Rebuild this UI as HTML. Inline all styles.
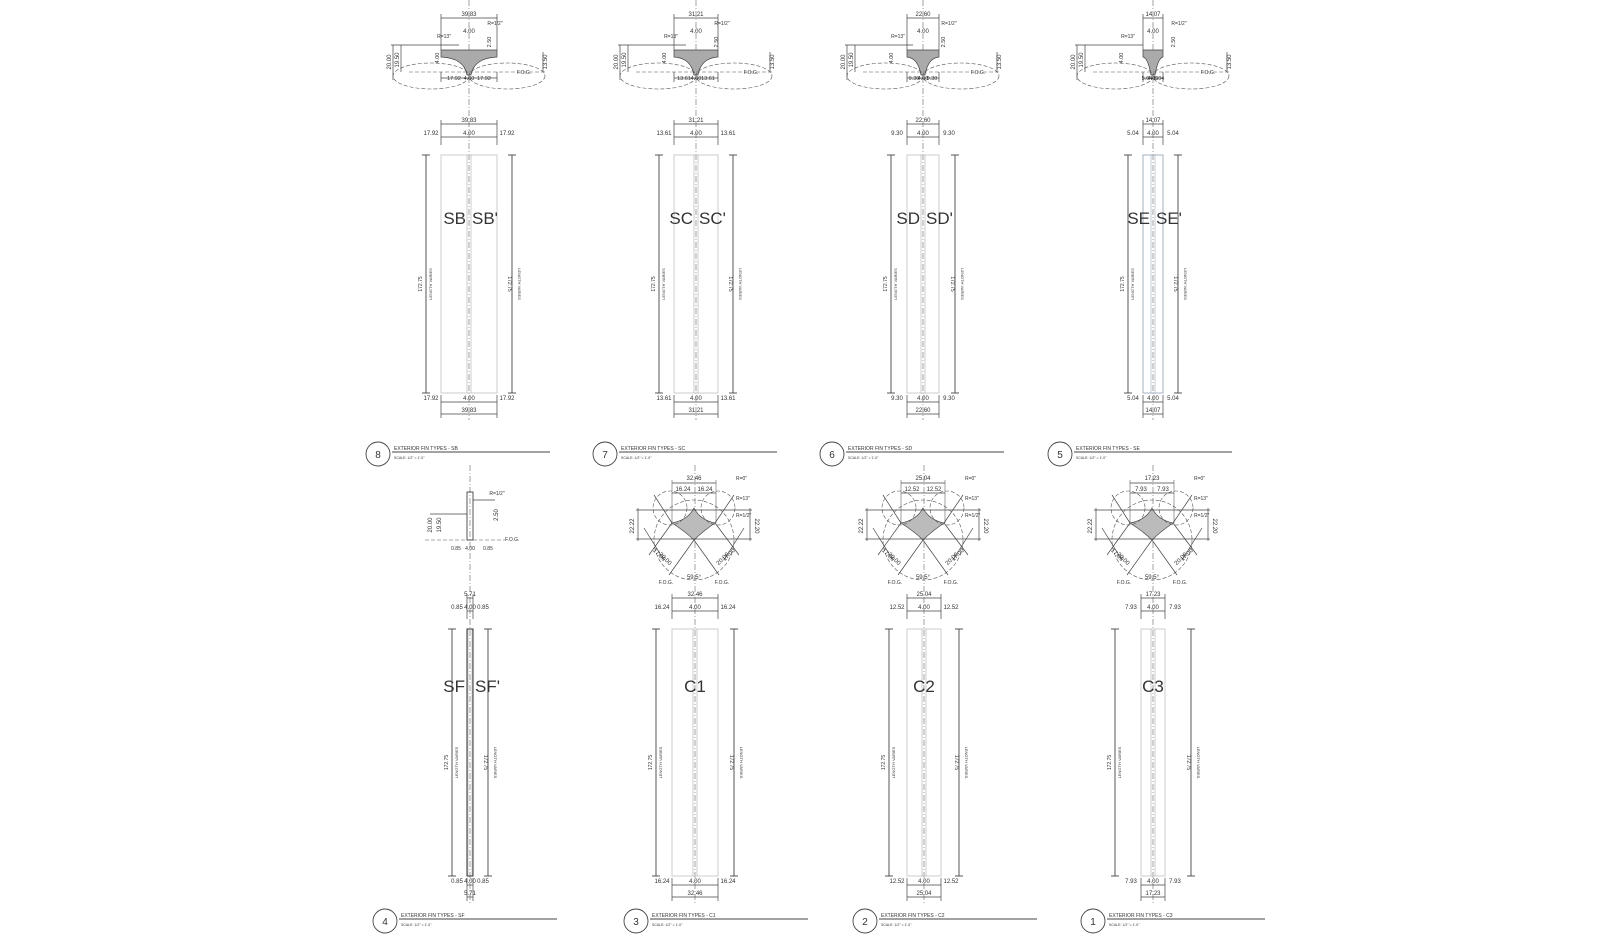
<!DOCTYPE html>
<html><head><meta charset="utf-8"><style>
html,body{margin:0;padding:0;background:#fff;width:1600px;height:938px;overflow:hidden}
svg{display:block}
text{font-family:"Liberation Sans",sans-serif;fill:#333}
</style></head><body>
<svg id="s" width="1600" height="938" viewBox="0 0 1600 938" xmlns="http://www.w3.org/2000/svg"></svg>
<script>
(function(){
var s=document.getElementById('s'),h='';
function L(a,b,c,d,st,w,da){h+='<line x1="'+a+'" y1="'+b+'" x2="'+c+'" y2="'+d+'" stroke="'+(st||'#555')+'" stroke-width="'+(w||0.7)+'"'+(da?' stroke-dasharray="'+da+'"':'')+'/>';}
function R(x,y,w,hh,st,sw){h+='<rect x="'+x+'" y="'+y+'" width="'+w+'" height="'+hh+'" fill="none" stroke="'+(st||'#bbb')+'" stroke-width="'+(sw||0.9)+'"/>';}
function T(x,y,t,sz,anc,rot){h+='<text x="'+x+'" y="'+y+'" font-size="'+sz+'" text-anchor="'+(anc||'middle')+'"'+(rot?' transform="rotate('+rot+' '+x+' '+y+')"':'')+'>'+t+'</text>';}
function title(cx,y,n,t){h+='<circle cx="'+cx+'" cy="'+y+'" r="12" fill="none" stroke="#444" stroke-width="0.9"/>';T(cx,y+4,n,10);L(cx+14,y-2,cx+172,y-2,'#444',0.9);T(cx+16,y-4,t,5,'start');T(cx+16,y+5,'SCALE: 1/2&quot; = 1&#39;-0&quot;',3.5,'start');}
function col(c,hw,bx,y0,y1,d1,d2,blue){
 R(c-hw,y0,2*hw,y1-y0,blue?'#9ab':'#c8c8c8');
 L(c-2,y0,c-2,y1,blue?'#9ab':'#aaa',0.6);L(c+2,y0,c+2,y1,blue?'#9ab':'#aaa',0.6);
 [c-bx,c+bx].forEach(function(x){L(x,y0,x,y1,'#444',0.9);L(x-4,y0,x+4,y0,'#444',0.9);L(x-4,y1,x+4,y1,'#444',0.9);});
 var my=(y0+y1)/2+10;
 T(c-bx-4,my,'172.75',5,'middle',-90);T(c-bx+6,my,'LENGTH VARIES',4,'middle',-90);
 T(c+bx-4,my,'172.75',5,'middle',90);T(c+bx+6,my,'LENGTH VARIES',4,'middle',90);
 L(c-hw,y0-31,c+hw,y0-31,'#444');L(c-hw,y0-18,c+hw,y0-18,'#444');
 L(c-hw,y0-35,c-hw,y0-10,'#444');L(c+hw,y0-35,c+hw,y0-10,'#444');
 T(c,y0-33,d1,6);T(c,y0-20,'4.00',6);T(c-hw-10,y0-20,d2,6);T(c+hw+10,y0-20,d2,6);
 L(c-hw,y1+9,c+hw,y1+9,'#444');L(c-hw,y1+21,c+hw,y1+21,'#444');
 L(c-hw,y1+2,c-hw,y1+25,'#444');L(c+hw,y1+2,c+hw,y1+25,'#444');
 T(c,y1+7,'4.00',6);T(c,y1+19,d1,6);T(c-hw-10,y1+7,d2,6);T(c+hw+10,y1+7,d2,6);
}
var topRow=[[469,28,43,'SB','SB&#39;','39.83','17.92','8','EXTERIOR FIN TYPES - SB',91],[696,22,37,'SC','SC&#39;','31.21','13.61','7','EXTERIOR FIN TYPES - SC',91],[923,16,32,'SD','SD&#39;','22.60','9.30','6','EXTERIOR FIN TYPES - SD',91],[1153,10,25,'SE','SE&#39;','14.07','5.04','5','EXTERIOR FIN TYPES - SE',93]];
topRow.forEach(function(t,i){
 var c=t[0],w=t[1];
 L(c,0,c,420,'#666',0.6,'6 2 1 2');
 col(c,w,t[2],155,393,t[5],t[6],i==3);
 T(c-3,224,t[3],17,'end');T(c+3,224,t[4],17,'start');
 h+='<path d="M'+(c-w)+' 50 L'+(c+w)+' 50 L'+(c+w)+' 57 Q'+(c+5)+' 58 '+(c+2)+' 75 L'+(c-2)+' 75 Q'+(c-5)+' 58 '+(c-w)+' 57 Z" fill="#aaa" stroke="#444" stroke-width="0.7"/>';
 h+='<ellipse cx="'+(c-38)+'" cy="76" rx="38" ry="13" fill="none" stroke="#555" stroke-width="0.6" stroke-dasharray="4 2"/>';
 h+='<ellipse cx="'+(c+38)+'" cy="76" rx="38" ry="13" fill="none" stroke="#555" stroke-width="0.6" stroke-dasharray="4 2"/>';
 L(c-60,72,c+76,72,'#555',0.6,'4 2');
 L(c-w,18,c+w,18,'#444');T(c,16,t[5],6);L(c-w,14,c-w,50,'#444');L(c+w,14,c+w,50,'#444');
 L(c-w,78,c+w,78,'#444');L(c-w,72,c-w,82,'#444');L(c+w,72,c+w,82,'#444');
 T(c-w/2-1,80,t[6],5.5);T(c+w/2+1,80,t[6],5.5);T(c,80,'4.00',5.5);
 L(c-76,45,c-76,80,'#444');L(c-68,45,c-68,72,'#444');L(c-78,45,c-10,45,'#444');
 T(c-78,62,'20.00',6,'middle',-90);T(c-70,60,'19.50',6,'middle',-90);
 L(c+74,52,c+74,72,'#444');T(c+78,62,'13.50',6,'middle',-90);T(c+55,74,'F.O.G.',5);
 T(c+26,25,'R=1/2&quot;',5);T(c-25,38,'R=13&quot;',5);T(c,33,'4.00',6);
 T(c+22,42,'2.50',5.5,'middle',-90);T(c-30,58,'4.00',5.5,'middle',-90);
 title(c-t[9],454,t[7],t[8]);
});
var botRow=[[470,3,18,'SF','SF&#39;','5.71','0.85','4','EXTERIOR FIN TYPES - SF',85],[695,23,39,'C1','','32.46','16.24','3','EXTERIOR FIN TYPES - C1',59],[924,17,35,'C2','','25.04','12.52','2','EXTERIOR FIN TYPES - C2',59],[1153,12,38,'C3','','17.23','7.93','1','EXTERIOR FIN TYPES - C3',60]];
botRow.forEach(function(t,i){
 var c=t[0];
 L(c,465,c,905,'#666',0.6,'6 2 1 2');
 col(c,t[1],t[2],629,876,t[5],t[6],false);
 if(i==0){R(c-3,629,6,247,'#333',1);T(c-5,692,'SF',17,'end');T(c+5,692,'SF&#39;',17,'start');
  R(c-3,492,6,48,'#444');L(c-45,540,c+35,540,'#555',0.6,'4 2');T(c+35,541,'F.O.G.',5,'start');
  T(c+28,515,'2.50',6,'middle',-90);T(c-38,525,'20.00',6,'middle',-90);T(c-29,525,'19.50',6,'middle',-90);
  T(c-14,550,'0.85',5);T(c+18,550,'0.85',5);T(c,550,'4.00',5);T(c+27,495,'R=1/2&quot;',5);
  L(c-40,514,c-3,514,'#444');L(c+3,500,c+25,500,'#444');}
 else{
  T(c,692,t[3],17);
  var a=c-1;
  h+='<path d="M'+a+' 508 Q'+(a+6)+' 520 '+(a+21)+' 523 Q'+(a+8)+' 532 '+a+' 540 Q'+(a-8)+' 532 '+(a-22)+' 523 Q'+(a-6)+' 520 '+a+' 508 Z" fill="#bbb" stroke="#444" stroke-width="0.7"/>';
  h+='<circle cx="'+a+'" cy="540" r="40" fill="none" stroke="#555" stroke-width="0.6" stroke-dasharray="4 2"/>';
  h+='<circle cx="'+(a+24)+'" cy="508" r="17" fill="none" stroke="#555" stroke-width="0.6" stroke-dasharray="4 2"/>';
  h+='<circle cx="'+(a-24)+'" cy="508" r="17" fill="none" stroke="#555" stroke-width="0.6" stroke-dasharray="4 2"/>';
  L(a,540,a-25,575,'#444');L(a,540,a+25,575,'#444');
  L(a-22,523,a-40,495,'#444');L(a+21,523,a+40,495,'#444');
  L(a-22,523,a-45,555,'#444');L(a+21,523,a+45,555,'#444');
  L(a-50,528,a-30,560,'#444');L(a+50,528,a+30,560,'#444');
  L(a-58,510,a+58,510,'#444');L(a-58,539,a+58,539,'#444');
  L(a-56,508,a-56,541,'#444');L(a+56,508,a+56,541,'#444');
  L(a-22,483,a+22,483,'#444');L(a-22,493,a+22,493,'#444');L(a-22,480,a-22,523,'#444',0.5);L(a+22,480,a+22,523,'#444',0.5);
  T(a,480,t[5],6);T(a-11,491,t[6],6);T(a+11,491,t[6],6);
  T(a-60,526,'22.22',6,'middle',-90);T(a+61,526,'22.20',6,'middle',90);
  T(a-30,560,'20.00',6,'middle',45);T(a+30,560,'20.00',6,'middle',-45);
  T(a-36,556,'17.00',6,'middle',45);T(a+36,556,'17.00',6,'middle',-45);
  T(a-28,584,'F.O.G.',5);T(a+28,584,'F.O.G.',5);T(a,579,'59.5°',6);
  T(a+42,480,'R=0&quot;',5,'start');T(a+42,500,'R=13&quot;',5,'start');T(a+42,517,'R=1/2&quot;',5,'start');
 }
 title(c-t[9],921,t[7],t[8]);
});
s.innerHTML=h;
})();
</script>
</body></html>
